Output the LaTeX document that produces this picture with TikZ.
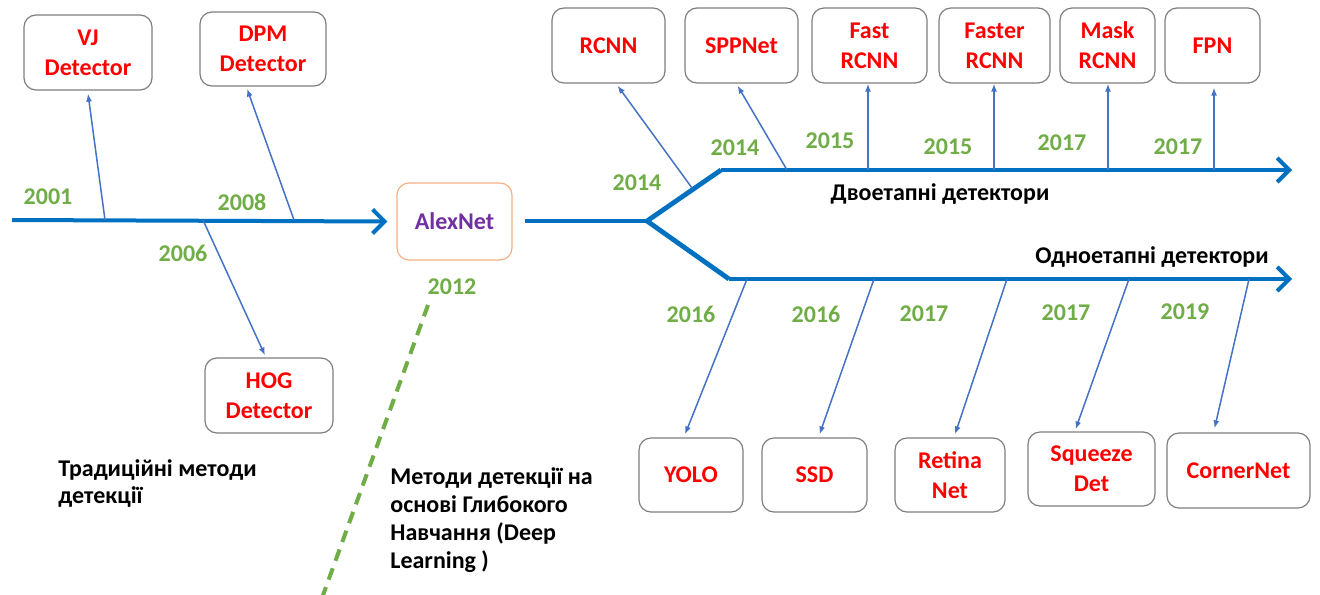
\documentclass[tikz,border=0pt]{standalone}
\usepackage{fontspec}
\setmainfont{Carlito}
\usetikzlibrary{arrows.meta}
\definecolor{spineblue}{HTML}{0070C0}
\definecolor{branchblue}{HTML}{4472C4}
\definecolor{yeargreen}{HTML}{70AD47}
\definecolor{detred}{HTML}{FF0000}
\definecolor{alexpurple}{HTML}{7030A0}
\definecolor{alexorange}{HTML}{F4B183}
\definecolor{boxgray}{HTML}{7F7F7F}
\begin{document}
\begin{tikzpicture}[x=0.5pt,y=-0.5pt,
  box/.style={draw=boxgray, line width=0.6pt, rounded corners=6pt, fill=white, align=center, text=detred, inner sep=0pt, minimum height=37.5pt, font=\fontsize{12}{15}\selectfont\bfseries},
  year/.style={text=yeargreen, inner sep=0pt, font=\fontsize{12}{14}\selectfont\bfseries},
  label/.style={text=black, inner sep=0pt, align=left, font=\fontsize{12}{13.5}\selectfont\bfseries},
  spine/.style={spineblue, line width=2pt, line join=round, -{Straight Barb[length=6pt,width=12pt]}},
  fork/.style={spineblue, line width=2.4pt, line join=miter},
  branch/.style={branchblue, line width=0.75pt, -{Latex[length=4pt,width=3pt]}}]
\useasboundingbox (0,0) rectangle (1320,594);
% traditional methods
\node [box, minimum width=64pt] (vj) at (88,52.5) {VJ\\Detector};
\node [box, minimum width=63pt, minimum height=37pt] (dpm) at (263,49) {DPM\\Detector};
\node [box, minimum width=64pt] (hog) at (269,395.5) {HOG\\Detector};
\node [box, draw=alexorange, text=alexpurple, minimum width=57.5pt, minimum height=38.5pt] (alex) at (454.5,221.5) {AlexNet};
\coordinate (start) at (12,220);
\coordinate (vjroot) at (105,220);
\coordinate (hogroot) at (203,220);
\coordinate (dpmroot) at (294,220);
\draw [spine] (start) -- ([xshift=-4.5pt]alex.west);
\draw [branch] (vjroot) -- ([yshift=-1.5pt]vj.south);
\draw [branch] (dpmroot) -- ([xshift=-8pt,yshift=-1pt]dpm.south);
\draw [branch] (hogroot) -- ([xshift=-2pt,yshift=1pt]hog.north);
\node [year] (y2001) at (48,197) {2001};
\node [year] (y2008) at (242,202) {2008};
\node [year] (y2006) at (183,253) {2006};
\node [year] (y2012) at (452,287) {2012};
% dividing line
\coordinate (divtop) at (428,305);
\coordinate (divbot) at (322,598);
\draw [yeargreen, line width=2pt, dash pattern=on 6pt off 4pt] (divtop) -- (divbot);
\node [label, anchor=base west] (trad) at (58,503) {Традиційні методи\\детекції};
\node [label, anchor=base west, font=\fontsize{12}{14}\selectfont\bfseries] (deep) at (390,568) {Методи детекції на\\основі Глибокого\\Навчання (Deep\\Learning )};
% fork
\coordinate (forkin) at (525,221);
\coordinate (forkpt) at (647,221);
\coordinate (upbend) at (721,170);
\coordinate (upend) at (1292,170);
\coordinate (lowbend) at (729,279);
\coordinate (lowend) at (1292,279);
\draw [fork] (forkin) -- (forkpt);
\draw [fork] (upbend) -- (forkpt) -- (lowbend);
\draw [spine] (upbend) -- (upend);
\draw [spine] (lowbend) -- (lowend);
\node [label] (twostage) at (940,194) {Двоетапні детектори};
\node [label] (onestage) at (1152,257) {Одноетапні детектори};
% two-stage detectors
\node [box, minimum width=56.5pt] (rcnn) at (608.5,45.5) {RCNN};
\node [box, minimum width=56.5pt] (spp) at (741.5,45.5) {SPPNet};
\node [box, minimum width=57.5pt] (fast) at (869.5,45.5) {Fast\\RCNN};
\node [box, minimum width=55.5pt] (faster) at (994.5,45.5) {Faster\\RCNN};
\node [box, minimum width=47.5pt] (mask) at (1107.5,45.5) {Mask\\RCNN};
\node [box, minimum width=47.5pt] (fpn) at (1212.5,45.5) {FPN};
\coordinate (rcnnroot) at (692,188);
\coordinate (spproot) at (787,170);
\coordinate (fastroot) at (868,170);
\coordinate (fasterroot) at (994,170);
\coordinate (maskroot) at (1108,170);
\coordinate (fpnroot) at (1214,170);
\draw [branch] (rcnnroot) -- ([xshift=4.5pt,yshift=-1pt]rcnn.south);
\draw [branch] (spproot) -- ([xshift=-2pt,yshift=-1pt]spp.south);
\draw [branch] (fastroot) -- (fastroot |- fast.south);
\draw [branch] (fasterroot) -- (fasterroot |- faster.south);
\draw [branch] (maskroot) -- (maskroot |- mask.south);
\draw [branch] (fpnroot) -- ([yshift=-2pt]fpnroot |- fpn.south);
\node [year] (y2014a) at (637,183) {2014};
\node [year] (y2014b) at (735,148) {2014};
\node [year] (y2015a) at (830,141) {2015};
\node [year] (y2015b) at (948,147) {2015};
\node [year] (y2017a) at (1062,143) {2017};
\node [year] (y2017b) at (1178,147) {2017};
% one-stage detectors
\node [box, minimum width=52pt, minimum height=37pt] (yolo) at (691,475) {YOLO};
\node [box, minimum width=52.5pt, minimum height=37pt] (ssd) at (814.5,475) {SSD};
\node [box, minimum width=55pt, minimum height=37pt] (retina) at (950,475) {Retina\\Net};
\node [box, minimum width=63.5pt, minimum height=37pt] (squeeze) at (1091.5,469) {Squeeze\\Det};
\node [box, minimum width=71.5pt] (corner) at (1238.5,470.5) {CornerNet};
\coordinate (yoloroot) at (747,279);
\coordinate (ssdroot) at (874,279);
\coordinate (retinaroot) at (1007,279);
\coordinate (squeezeroot) at (1129,279);
\coordinate (cornerroot) at (1249,279);
\draw [branch] (yoloroot) -- ([xshift=-3pt,yshift=1.5pt]yolo.north);
\draw [branch] (ssdroot) -- ([xshift=2.5pt,yshift=1.5pt]ssd.north);
\draw [branch] (retinaroot) -- ([xshift=2.5pt,yshift=1.5pt]retina.north);
\draw [branch] (squeezeroot) -- ([xshift=-8pt,yshift=1pt]squeeze.north);
\draw [branch] (cornerroot) -- ([xshift=-12pt,yshift=2pt]corner.north);
\node [year] (y2016a) at (691,314) {2016};
\node [year] (y2016b) at (816,314) {2016};
\node [year] (y2017c) at (924,314) {2017};
\node [year] (y2017d) at (1066,313) {2017};
\node [year] (y2019) at (1185,312) {2019};
\end{tikzpicture}
\end{document}
